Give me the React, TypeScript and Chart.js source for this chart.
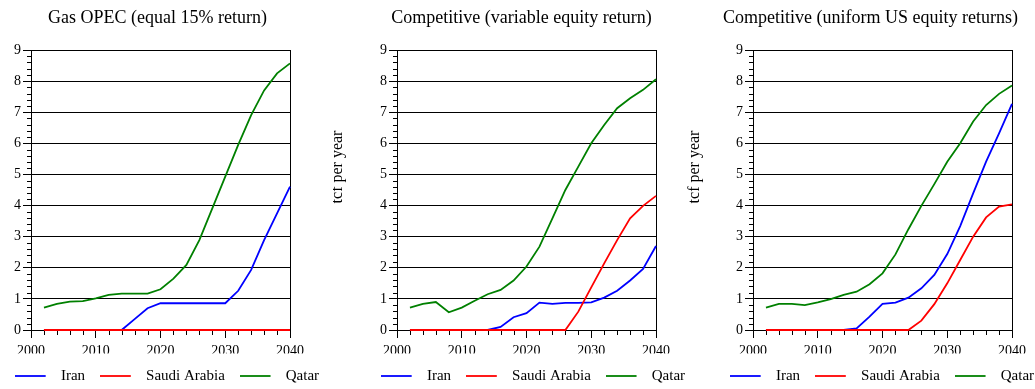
import { useEffect, useRef } from "react";
import { Chart, registerables } from "chart.js";

Chart.register(...registerables);
Chart.defaults.font.family = '"Liberation Serif", "Times New Roman", serif';
Chart.defaults.color = "#000";

// ---- data ----
const years = [2002, 2004, 2006, 2008, 2010, 2012, 2014, 2016, 2018, 2020, 2022, 2024, 2026, 2028, 2030, 2032, 2034, 2036, 2038, 2040];

const seriesNames = ["Iran", "Saudi Arabia", "Qatar"];
const seriesColors = ["#0000ff", "#ff0000", "#008000"];

// Gas OPEC (equal 15% return)
const opecIran = [0, 0, 0, 0, 0, 0, 0, 0.35, 0.7, 0.86, 0.86, 0.86, 0.86, 0.86, 0.86, 1.26, 1.93, 2.89, 3.75, 4.61];
const opecSaudi = [0, 0, 0, 0, 0, 0, 0, 0, 0, 0, 0, 0, 0, 0, 0, 0, 0, 0, 0, 0];
const opecQatar = [0.72, 0.84, 0.91, 0.93, 1.02, 1.13, 1.17, 1.17, 1.17, 1.31, 1.65, 2.09, 2.89, 3.91, 4.93, 5.95, 6.91, 7.7, 8.25, 8.57];

// Competitive (variable equity return)
const variableIran = [0, 0, 0, 0, 0, 0, 0, 0.1, 0.41, 0.54, 0.88, 0.84, 0.87, 0.87, 0.89, 1.04, 1.26, 1.59, 1.96, 2.7];
const variableSaudi = [0, 0, 0, 0, 0, 0, 0, 0, 0, 0, 0, 0, 0, 0.59, 1.37, 2.14, 2.89, 3.59, 3.99, 4.31];
const variableQatar = [0.72, 0.84, 0.9, 0.57, 0.72, 0.94, 1.15, 1.29, 1.59, 2.04, 2.68, 3.59, 4.5, 5.25, 6.0, 6.59, 7.13, 7.45, 7.72, 8.06];

// Competitive (uniform US equity returns)
const uniformIran = [0, 0, 0, 0, 0, 0, 0, 0.05, 0.43, 0.84, 0.88, 1.04, 1.34, 1.77, 2.44, 3.34, 4.39, 5.41, 6.32, 7.27];
const uniformSaudi = [0, 0, 0, 0, 0, 0, 0, 0, 0, 0, 0, 0, 0.3, 0.83, 1.5, 2.25, 3.0, 3.62, 3.97, 4.04];
const uniformQatar = [0.72, 0.84, 0.84, 0.8, 0.89, 0.99, 1.13, 1.23, 1.47, 1.82, 2.43, 3.24, 3.99, 4.69, 5.41, 6.0, 6.7, 7.23, 7.59, 7.86];

const panelTitles = [
  "Gas OPEC (equal 15% return)",
  "Competitive (variable equity return)",
  "Competitive (uniform US equity returns)",
];
const yAxisTitle = "tcf per year";

const xMin = 2000;
const xMax = 2040;
const xMajorStep = 10;
const xMinorStep = 2;
const yMin = 0;
const yMax = 9;
const yMajorStep = 1;
const yMinorStep = 0.2;

// ---- layout of the three panels (page coordinates) ----
const CANVAS_W = 400;
const CANVAS_H = 389;

type Panel = {
  title: string;
  series: number[][];
  canvasLeft: number;
  plotLeft: number;
  plotRight: number;
  titleX: number;
  yTitleX: number | null;
};

const panels: Panel[] = [
  { title: panelTitles[0], series: [opecIran, opecSaudi, opecQatar], canvasLeft: -33, plotLeft: 31, plotRight: 290, titleX: 157.5, yTitleX: null },
  { title: panelTitles[1], series: [variableIran, variableSaudi, variableQatar], canvasLeft: 333, plotLeft: 397, plotRight: 656, titleX: 521.5, yTitleX: 338 },
  { title: panelTitles[2], series: [uniformIran, uniformSaudi, uniformQatar], canvasLeft: 682, plotLeft: 753, plotRight: 1012, titleX: 870.5, yTitleX: 695 },
];

function lineSwatch(color: string): HTMLCanvasElement {
  const c = document.createElement("canvas");
  c.width = 39;
  c.height = 4;
  const g = c.getContext("2d")!;
  g.strokeStyle = color;
  g.lineWidth = 1.8;
  g.beginPath();
  g.moveTo(0, 2);
  g.lineTo(31, 2);
  g.stroke();
  return c;
}

function PanelChart({ panel }: { panel: Panel }) {
  const ref = useRef<HTMLCanvasElement | null>(null);

  useEffect(() => {
    if (!ref.current) return;
    const swatches = seriesColors.map(lineSwatch);
    const baseLabels = (Chart.defaults.plugins.legend.labels as any).generateLabels;
    const order = [1, 0, 2]; // red on top of blue where both sit at zero

    // minor tick marks, panel title and the rotated axis title
    const decor = {
      id: "panelDecor",
      beforeDatasetsDraw(chart: any) {
        const ctx: CanvasRenderingContext2D = chart.ctx;
        const { left, bottom } = chart.chartArea;
        const xs = chart.scales.x;
        const ys = chart.scales.y;
        ctx.save();
        ctx.strokeStyle = "#000";
        ctx.lineWidth = 1;
        ctx.beginPath();
        for (let v = xMin + xMinorStep; v < xMax; v += xMinorStep) {
          if (v % xMajorStep === 0) continue;
          const px = Math.round(xs.getPixelForValue(v)) + 0.5;
          ctx.moveTo(px, bottom);
          ctx.lineTo(px, bottom + 5);
        }
        const nMinor = Math.round((yMax - yMin) / yMinorStep);
        const perMajor = Math.round(yMajorStep / yMinorStep);
        for (let k = 1; k < nMinor; k++) {
          if (k % perMajor === 0) continue;
          const py = Math.round(ys.getPixelForValue(yMin + k * yMinorStep)) + 0.5;
          ctx.moveTo(left - 4, py);
          ctx.lineTo(left, py);
        }
        ctx.stroke();
        ctx.restore();
      },
      afterDraw(chart: any) {
        const ctx: CanvasRenderingContext2D = chart.ctx;
        ctx.save();
        ctx.fillStyle = "#000";
        ctx.font = '18px "Liberation Serif", "Times New Roman", serif';
        ctx.textAlign = "center";
        ctx.textBaseline = "alphabetic";
        ctx.fillText(panel.title, panel.titleX - panel.canvasLeft, 23);

        if (panel.yTitleX !== null) {
          ctx.translate(panel.yTitleX - panel.canvasLeft, 167);
          ctx.rotate(-Math.PI / 2);
          ctx.font = '16px "Liberation Serif", "Times New Roman", serif';
          ctx.textBaseline = "middle";
          ctx.fillText(yAxisTitle, 0, 0);
        }
        ctx.restore();
      },
    };

    const chart = new Chart(ref.current, {
      type: "line",
      data: {
        datasets: panel.series.map((vals, i) => ({
          label: seriesNames[i],
          data: years.map((x, j) => ({ x, y: vals[j] })),
          borderColor: seriesColors[i],
          backgroundColor: seriesColors[i],
          borderWidth: 1.8,
          pointRadius: 0,
          tension: 0,
          fill: false,
          clip: false,
          order: order[i],
        })),
      },
      options: {
        animation: false,
        responsive: false,
        events: [],
        layout: { padding: { top: 50, bottom: -4.5, left: 0, right: 0 } },
        plugins: {
          title: { display: false },
          tooltip: { enabled: false },
          legend: {
            position: "bottom",
            align: "center",
            labels: {
              usePointStyle: true,
              pointStyleWidth: 38.5,
              padding: 15,
              color: "#000",
              font: { size: 15 },
              sort: (a: any, b: any) => a.datasetIndex - b.datasetIndex,
              generateLabels: (c: any) =>
                baseLabels(c).map((item: any) => ({ ...item, pointStyle: swatches[item.datasetIndex] })),
            },
          },
        },
        scales: {
          x: {
            type: "linear",
            min: xMin,
            max: xMax,
            ticks: {
              stepSize: xMajorStep,
              autoSkip: false,
              maxRotation: 0,
              padding: 5,
              color: "#000",
              font: { size: 14 },
              callback: (v: any) => String(v),
            },
            grid: { drawOnChartArea: false, drawTicks: true, tickLength: 8, tickColor: "#000", color: "#000" },
            border: { display: true, color: "#000", width: 1 },
            afterFit: (s: any) => {
              s.height = 23.5;
            },
          },
          y: {
            type: "linear",
            position: "left",
            min: yMin,
            max: yMax,
            ticks: { stepSize: yMajorStep, padding: 2, color: "#000", font: { size: 14 } },
            grid: { color: "#000", lineWidth: 1, tickLength: 8, tickColor: "#000" },
            border: { display: true, color: "#000", width: 1 },
            afterFit: (s: any) => {
              s.width = panel.plotLeft - panel.canvasLeft;
            },
          },
          frame: {
            type: "linear",
            position: "right",
            min: yMin,
            max: yMax,
            grid: { display: false },
            ticks: { display: false },
            border: { display: true, color: "#000", width: 1 },
            afterFit: (s: any) => {
              s.width = panel.canvasLeft + CANVAS_W - panel.plotRight;
            },
          },
        },
      } as any,
      plugins: [decor],
    });

    return () => chart.destroy();
  }, [panel]);

  return (
    <canvas
      ref={ref}
      width={CANVAS_W}
      height={CANVAS_H}
      style={{ position: "absolute", left: panel.canvasLeft, top: 0, width: CANVAS_W, height: CANVAS_H }}
    />
  );
}

export default function App() {
  return (
    <div
      style={{
        position: "fixed",
        left: 0,
        top: 0,
        width: 1035,
        height: 389,
        overflow: "hidden",
        background: "#fff",
      }}
    >
      {panels.map((p, i) => (
        <PanelChart key={i} panel={p} />
      ))}
    </div>
  );
}
